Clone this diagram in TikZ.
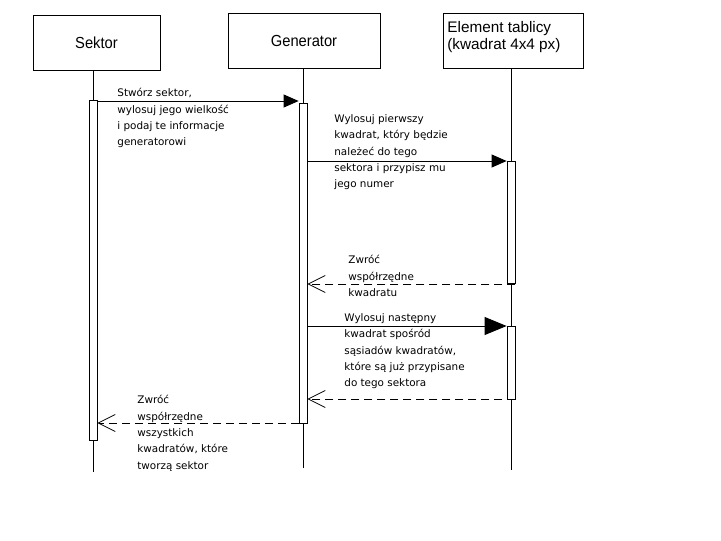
\documentclass[tikz,border=0pt]{standalone}
\usepackage{fontspec}
\setmainfont{DejaVu Sans}
\newfontfamily\boxfont[FakeStretch=0.92]{Liberation Sans}
\newfontfamily\elefont{Liberation Sans}
\usetikzlibrary{arrows.meta}
\begin{document}
\begin{tikzpicture}[x=1pt,y=-1pt,
  line width=0.8pt,
  box/.style={draw, fill=white, inner sep=0pt, font=\boxfont\fontsize{16}{19}\selectfont},
  act/.style={draw, fill=white, minimum width=8pt, inner sep=0pt},
  life/.style={draw},
  msg/.style={-{Triangle[length=15pt,width=13pt]}},
  bigmsg/.style={-{Triangle[length=22pt,width=18pt]}},
  ret/.style={dashed, dash pattern=on 8pt off 5pt, -{Straight Barb[length=17pt,width=17pt,line width=0.8pt]}},
  lbl/.style={anchor=north west, inner sep=0pt, align=left, font=\fontsize{10.4}{16.4}\selectfont}
]
\useasboundingbox[fill=white] (0,0) rectangle (721,541);

% heads
\node[box, minimum width=127pt, minimum height=55pt] (sek) at (96.5,42.5) {Sektor};
\node[box, minimum width=152pt, minimum height=55pt] (gen) at (304,40.5) {Generator};
\node[box, minimum width=140pt, minimum height=55pt] (ele) at (513,40.5) {};
\node[box, anchor=north west, align=left, draw=none, fill=none, font=\elefont\fontsize{15.3}{17}\selectfont] (elet) at (447,21) {Element tablicy\\(kwadrat 4x4 px)};

% lifeline ends
\coordinate (sl) at (93,472);
\coordinate (gl) at (303,468);
\coordinate (el) at (511,470);
\draw[life] (sek.south -| sl) -- (sl);
\draw[life] (gen.south -| gl) -- (gl);
\draw[life] (ele.south -| el) -- (el);

% activations
\node[act, minimum height=340pt] (sa) at (93,270) {};
\node[act, minimum height=320pt] (ga) at (303,263) {};
\node[act, minimum height=122pt] (ea1) at (511,222) {};
\node[act, minimum height=73pt] (ea2) at (511,362.5) {};

% messages
\draw[msg] (sa.east |- 0,101) -- (ga.west |- 0,101);
\draw[msg] (ga.east |- 0,161) -- (ea1.west |- 0,161);
\draw[ret] (ea1.east |- 0,284) -- (ga.east |- 0,284);
\draw[bigmsg] (ga.east |- 0,326) -- (ea2.west |- 0,326);
\draw[ret] (ea2.east |- 0,399) -- (ga.east |- 0,399);
\draw[ret] (ga.west |- 0,423) -- (sa.east |- 0,423);

% labels
\node[lbl] (l1) at (117,88) {Stwórz sektor,\\wylosuj jego wielkość\\i podaj te informacje\\generatorowi};
\node[lbl] (l2) at (334,114) {Wylosuj pierwszy\\kwadrat, który będzie\\należeć do tego\\sektora i przypisz mu\\jego numer};
\node[lbl] (l3) at (348,255) {Zwróć\\współrzędne\\kwadratu};
\node[lbl] (l4) at (344,313) {Wylosuj następny\\kwadrat spośród\\sąsiadów kwadratów,\\które są już przypisane\\do tego sektora};
\node[lbl] (l6) at (137,395) {Zwróć\\współrzędne\\wszystkich\\kwadratów, które\\tworzą sektor};
\end{tikzpicture}
\end{document}
